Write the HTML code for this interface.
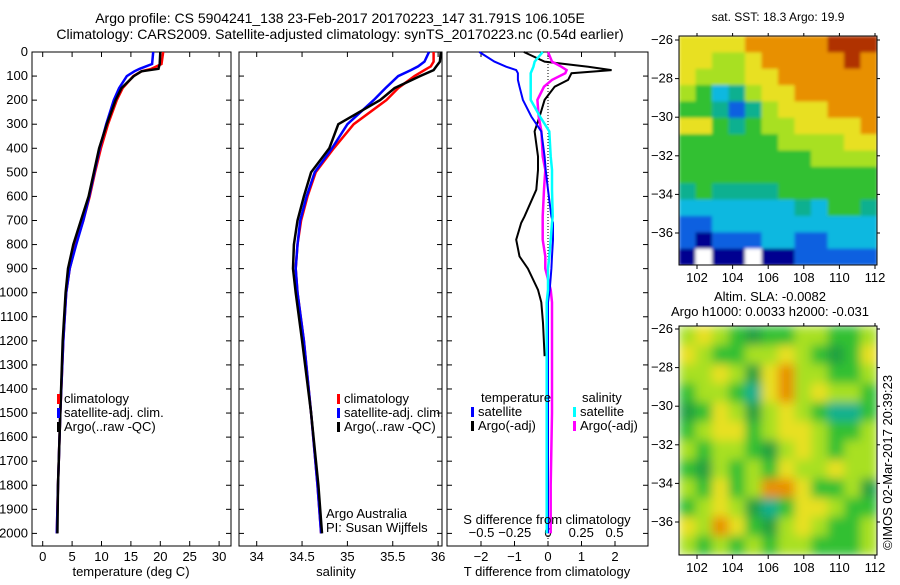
<!DOCTYPE html>
<html><head><meta charset="utf-8"><style>
body{margin:0;background:#fff;}
svg text{font-family:"Liberation Sans",sans-serif;font-size:13px;fill:#000;}
</style></head><body>
<svg id="c" width="900" height="580" xmlns="http://www.w3.org/2000/svg">
<defs>
<filter id="blurA" x="0" y="0" width="1" height="1"><feGaussianBlur stdDeviation="5" edgeMode="duplicate"/></filter>
<filter id="blurB" x="0" y="0" width="1" height="1"><feGaussianBlur stdDeviation="1.5" edgeMode="duplicate"/></filter>
<clipPath id="clipA"><rect x="679" y="36" width="198" height="229"/></clipPath>
<clipPath id="clipB"><rect x="679" y="326" width="198" height="229"/></clipPath>
</defs>
<text x="340" y="23" text-anchor="middle" style="font-size:14px">Argo profile: CS 5904241_138 23-Feb-2017 20170223_147 31.791S 106.105E</text>
<text x="340" y="39" text-anchor="middle" style="font-size:14px">Climatology: CARS2009. Satellite-adjusted climatology: synTS_20170223.nc (0.54d earlier)</text>
<text x="778" y="21" text-anchor="middle" style="font-size:12px">sat. SST: 18.3 Argo: 19.9</text>
<text x="770" y="301" text-anchor="middle">Altim. SLA: -0.0082</text>
<text x="770" y="316" text-anchor="middle">Argo h1000: 0.0033 h2000: -0.031</text>
<text transform="translate(892,550) rotate(-90)">©IMOS 02-Mar-2017 20:39:23</text>
<g id="g"></g>
</svg>
<script>
// ---- data ----
const depthT=[0,50,70,80,100,150,200,300,400,500,600,700,800,900,1000,1200,1500,1800,2000];
const tClim=[20.5,20.2,18.5,16.8,15.4,13.6,12.6,11.1,9.9,8.9,8.0,6.9,5.6,4.6,4.0,3.5,3.0,2.6,2.4];
const tSat=[18.8,18.6,16.5,15.6,14.3,13.0,12.1,10.8,9.7,8.8,7.9,6.9,5.7,4.6,4.0,3.5,3.0,2.6,2.4];
const tArgo=[20.0,19.9,19.7,16.8,15.5,13.4,12.4,10.9,9.6,8.7,7.8,6.5,5.2,4.3,3.9,3.4,3.0,2.6,2.5];
const depthS=[0,40,60,75,100,150,200,300,400,500,600,700,800,900,1000,1200,1500,1800,2000];
const sClim=[35.95,35.95,35.92,35.85,35.74,35.56,35.43,35.07,34.85,34.65,34.56,34.49,34.45,34.43,34.45,34.52,34.6,34.67,34.71];
const sSat=[35.9,35.85,35.78,35.7,35.56,35.42,35.29,35.0,34.83,34.64,34.55,34.48,34.45,34.43,34.45,34.52,34.6,34.67,34.71];
const sArgo=[36.03,36.02,35.98,35.95,35.8,35.52,35.36,34.9,34.8,34.6,34.52,34.45,34.41,34.4,34.43,34.5,34.6,34.68,34.72];
const depthD=[0,40,61,75,88,116,144,199,268,330,434,490,572,683,710,780,849,900,988,1040,1126,1264,1500,1800,2000];
const dTSat=[-2.05,-1.6,-1.25,-0.95,-0.9,-0.9,-0.85,-0.75,-0.5,-0.2,-0.1,-0.07,0.0,0.1,0.15,0.15,0.12,0.1,0.05,0.0,0.0,0.0,0.0,0.0,0.0];
const dTArgo=[-0.72,-0.1,1.2,1.9,0.7,0.6,0.2,-0.1,-0.25,-0.4,-0.3,-0.3,-0.35,-0.7,-0.8,-0.95,-0.85,-0.6,-0.3,-0.2,-0.15,-0.1,null,null,null];
const dSSat=[-0.04,-0.1,-0.11,-0.12,-0.13,-0.13,-0.13,-0.13,-0.06,0.01,0.02,0.03,0.03,0.035,0.03,0.02,0.01,0.0,0.0,-0.01,-0.01,-0.01,-0.01,-0.01,-0.01];
const dSArgo=[0.0,0.03,0.1,0.14,0.13,0.03,-0.03,-0.08,-0.07,-0.05,-0.04,-0.02,-0.03,-0.04,-0.04,-0.04,-0.02,-0.02,0.02,0.03,0.03,0.03,0.03,0.02,0.02];
const tTicks=[0,5,10,15,20,25,30];
const sTicks=[34,34.5,35,35.5,36];
const dTTicks=[-2,-1,0,1,2];
const dSTicks=[-0.5,-0.25,0,0.25,0.5];
const depthTicks=[0,100,200,300,400,500,600,700,800,900,1000,1100,1200,1300,1400,1500,1600,1700,1800,1900,2000];
const lonTicks=[102,104,106,108,110,112];
const latTicks=[-26,-28,-30,-32,-34,-36];
const sstGrid=["yyyyoooooRRR","yyllyoooooRo","ylllyyoooooo","lgctlyyooooo","ggtbtlyyyooo","yygtgllyyyyo","ggggggllllyy","ggggggggllll","gggggggggggg","tgttttgggggg","ccccccctcggt","bbcccccccccc","bdbbbccbbccc","dwddwddbbbbb"];
const slaGrid=["lylgGggllggl","ylggllylgGgy","llylGyollggl","gllgtyolyllg","GgylGlylgttg","glyyglyylggl","lgllgGlylgll","gGlglgyllyll","lgyglooygglG","glylGtgyylgg","yloygGlylggl","lglglgllgggl"];
// ---- helpers ----
const G=document.getElementById('g');const NS='http://www.w3.org/2000/svg';
function mk(t,a,p){const e=document.createElementNS(NS,t);for(const k in a)e.setAttribute(k,a[k]);(p||G).appendChild(e);return e;}
const yD=d=>52+d*0.2407;
const pTop=52,pBot=546;
function panel(name,x0,x1){const r=mk('rect',{x:x0,y:pTop,width:x1-x0,height:pBot-pTop,fill:'none',stroke:'#000'});

}
function depthAxis(x0,x1,labels){depthTicks.forEach(d=>{mk('line',{x1:x0,x2:x0+5,y1:yD(d),y2:yD(d),stroke:'#000'});mk('line',{x1:x1,x2:x1-5,y1:yD(d),y2:yD(d),stroke:'#000'});
if(labels){const t=mk('text',{x:x0-4,y:yD(d)+4,'text-anchor':'end'});t.textContent=d;

}});}
function xAxis(ticks,fx,ty){ticks.forEach(v=>{const x=fx(v);mk('line',{x1:x,x2:x,y1:pBot,y2:pBot-5,stroke:'#000'});mk('line',{x1:x,x2:x,y1:pTop,y2:pTop+5,stroke:'#000'});
const t=mk('text',{x:x,y:ty,'text-anchor':'middle'});t.textContent=(v<0?'\u2212':'')+Math.abs(v);

});}
function line(xs,ds,fx,col,name,w){let p='';xs.forEach((v,i)=>{if(v===null)return;p+=(p?'L':'M')+fx(v).toFixed(1)+','+yD(ds[i]).toFixed(1);});
const e=mk('path',{d:p,fill:'none',stroke:col,'stroke-width':w||2.5});

}
function label(x,y,s,name,anchor){const t=mk('text',{x:x,y:y,'text-anchor':anchor||'start'});t.textContent=s;

}
function legend(x,y,col,s,name){mk('rect',{x:x,y:y-9,width:3,height:10,fill:col});label(x+7,y,s,name);}
// panel 1 temperature
const fT=v=>42.7+v*5.88;
panel('temperature-panel',32,231);depthAxis(32,231,true);xAxis(tTicks,fT,561);
line(tClim,depthT,fT,'#f00','climatology-temp-line');line(tSat,depthT,fT,'#00f','satellite-temp-line');line(tArgo,depthT,fT,'#000','argo-temp-line');
label(131,576,'temperature (deg C)','temperature-axis-title','middle');
legend(57,403,'#f00','climatology','legend-climatology');legend(57,417,'#00f','satellite-adj. clim.','legend-satellite');legend(57,431,'#000','Argo(..raw -QC)','legend-argo');
// panel 2 salinity
const fS=v=>256.7+(v-34)*90.7;
panel('salinity-panel',239,442);depthAxis(239,442,false);xAxis(sTicks,fS,561);
line(sClim,depthS,fS,'#f00','climatology-salinity-line');line(sSat,depthS,fS,'#00f','satellite-salinity-line');line(sArgo,depthS,fS,'#000','argo-salinity-line');
label(336,576,'salinity','salinity-axis-title','middle');
legend(337,403,'#f00','climatology','legend-climatology-2');legend(337,417,'#00f','satellite-adj. clim.','legend-satellite-2');legend(337,431,'#000','Argo(..raw -QC)','legend-argo-2');
label(326,518,'Argo Australia','argo-australia-label');label(326,532,'PI: Susan Wijffels','pi-label');
// panel 3 differences
const fDT=v=>548+v*33.5, fDS=v=>548+v*133;
panel('difference-panel',447,648);depthAxis(447,648,false);xAxis(dTTicks,fDT,561);
dSTicks.forEach(v=>{const t=mk('text',{x:fDS(v),y:537,'text-anchor':'middle'});t.textContent=(v<0?'\u2212':'')+Math.abs(v);

});
mk('line',{x1:548,x2:548,y1:pTop,y2:pBot,stroke:'#000','stroke-dasharray':'1,2'});
line(dTArgo,depthD,fDT,'#000','argo-temp-diff-line',2);line(dSArgo,depthD,fDS,'#f0f','argo-salinity-diff-line');
line(dTSat,depthD,fDT,'#00f','satellite-temp-diff-line',2);line(dSSat,depthD,fDS,'#0ff','satellite-salinity-diff-line');
label(547,524,'S difference from climatology','s-diff-axis-title','middle');label(547,576,'T difference from climatology','t-diff-axis-title','middle');
label(481,402,'temperature','legend-temperature-heading');label(582,402,'salinity','legend-salinity-heading');
legend(471,416,'#00f','satellite','legend-t-satellite');legend(471,430,'#000','Argo(-adj)','legend-t-argo');
legend(573,416,'#0ff','satellite','legend-s-satellite');legend(573,430,'#f0f','Argo(-adj)','legend-s-argo');
// maps
const pal={R:'#b03000',o:'#e89000',y:'#e8e020',l:'#a8e020',g:'#30c030',G:'#20a040',t:'#10b090',c:'#10b8e0',b:'#1060e0',d:'#000090',w:'#ffffff'};
function map(name,grid,x0,y0,w,h,latTop,filt,clip){const outer=mk('g',{'clip-path':'url(#'+clip+')'});
const gg=mk('g',{filter:'url(#'+filt+')'},outer);


const R=grid.length,C=grid[0].length;for(let r=0;r<R;r++)for(let c=0;c<C;c++)mk('rect',{x:x0+c*w/C,y:y0+r*h/R,width:w/C+0.6,height:h/R+0.6,fill:pal[grid[r][c]]},gg);
mk('rect',{x:x0,y:y0,width:w,height:h,fill:'none',stroke:'#000'});
const fx=v=>697+(v-102)*17.8, fy=v=>latTop+(-26-v)*19.3;
lonTicks.forEach(v=>{mk('line',{x1:fx(v),x2:fx(v),y1:y0+h,y2:y0+h+4,stroke:'#000'});mk('line',{x1:fx(v),x2:fx(v),y1:y0,y2:y0-3,stroke:'#000'});label(fx(v),y0+h+17,String(v),'lon-tick-label','middle');});
latTicks.forEach(v=>{mk('line',{x1:x0-4,x2:x0,y1:fy(v),y2:fy(v),stroke:'#000'});mk('line',{x1:x0+w,x2:x0+w+3,y1:fy(v),y2:fy(v),stroke:'#000'});label(x0-6,fy(v)+4,'\u2212'+Math.abs(v),'lat-tick-label','end');});}
map('sst-map',sstGrid,679,36,198,229,40,'blurB','clipA');
map('sla-map',slaGrid,679,326,198,229,329,'blurA','clipB');
</script>
</body></html>
